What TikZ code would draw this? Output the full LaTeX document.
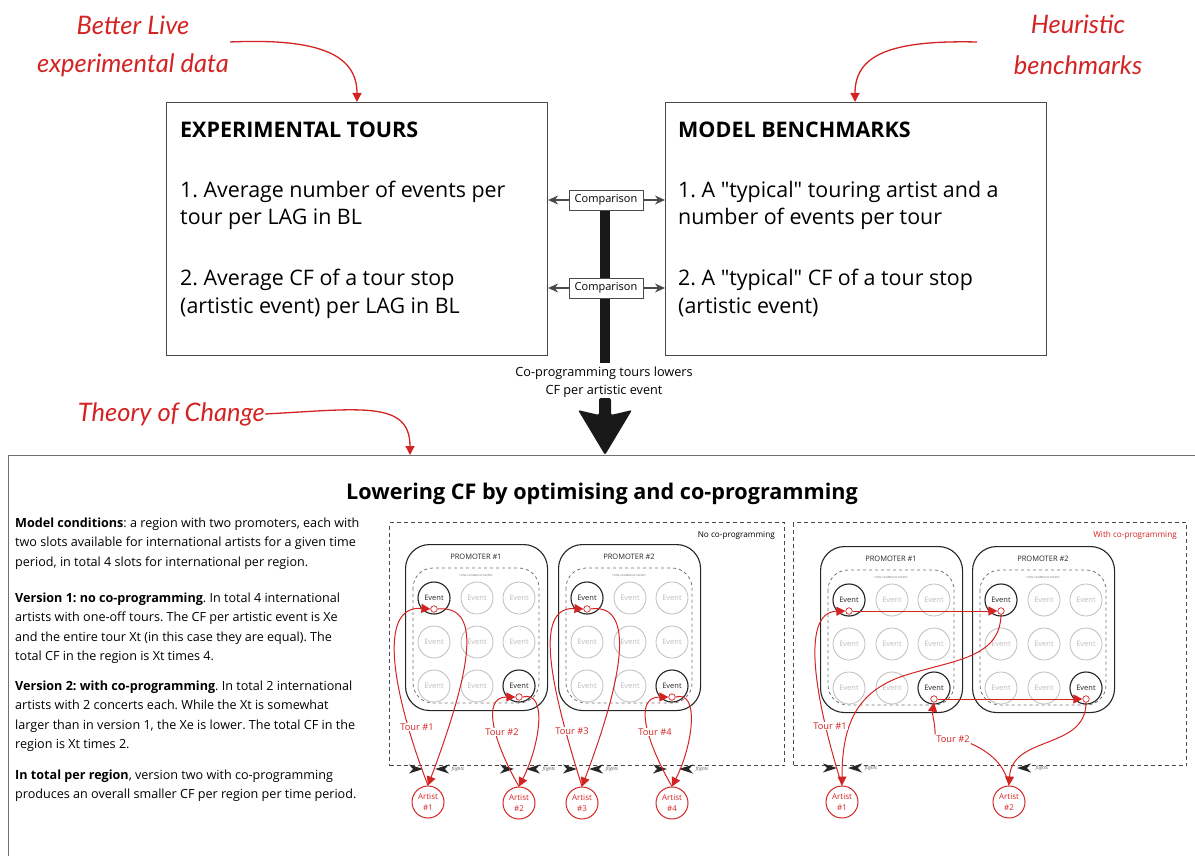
\documentclass[tikz,border=0pt]{standalone}
\usepackage{fontspec}
\setmainfont{Open Sans}
\newfontfamily\plainq{Open Sans}
\newfontfamily\handfont{Lato}
\usetikzlibrary{arrows.meta,calc,backgrounds}
\definecolor{tred}{HTML}{D42323}
\definecolor{dgrey}{HTML}{4A4A4A}
\definecolor{lgrey}{HTML}{BDBDBD}
\definecolor{mgrey}{HTML}{707070}
\newcommand\fs[2]{\fontsize{#1}{#2}\selectfont}
\newcommand\sq{{\plainq"}}
\frenchspacing
\tikzset{
  hand/.style={font=\handfont\itshape\fs{25.5}{28}, text=tred, inner sep=0pt},
  redarrow/.style={tred, line width=1.3pt, -{Triangle[length=9pt,width=9pt]}},
  topbox/.style={draw=dgrey, line width=1.1pt},
  boxtxt/.style={anchor=base west, inner sep=0pt, font=\fs{21.4}{24}},
  boxtitle/.style={anchor=base west, inner sep=0pt, font=\fs{21.5}{24}\bfseries},
  cmpbox/.style={draw=dgrey, line width=0.9pt, fill=white, minimum width=74pt, minimum height=20pt, inner sep=0pt, font=\fs{11}{12}},
  cmparrow/.style={dgrey, line width=1.2pt, -{Stealth[length=10pt,width=9pt]}},
  para/.style={anchor=base west, inner sep=0pt, font=\fs{12.6}{14}},
  ev/.style={circle, draw=lgrey, fill=white, line width=0.8pt, minimum size=32pt, inner sep=0pt, text=lgrey, font=\fs{7.5}{9}},
  evon/.style={ev, draw=black!85, text=black!85, line width=1.1pt},
  dot/.style={circle, draw=tred, fill=white, line width=0.7pt, minimum size=6.5pt, inner sep=0pt},
  artist/.style={circle, draw=tred, line width=1pt, minimum size=32pt, inner sep=0pt, text=tred, font=\fs{8}{11}, align=center},
  tour/.style={tred, line width=1pt},
  tourarr/.style={tour, -{Triangle[length=9pt,width=9pt]}},
  tourlbl/.style={text=tred, font=\fs{9.3}{11}, inner sep=1pt, fill=white},
  promo/.style={draw=black!85, line width=1.1pt, rounded corners=24pt},
  innerbox/.style={draw=mgrey, dashed, line width=0.8pt, rounded corners=20pt},
  panel/.style={draw=dgrey, line width=1pt, dash pattern=on 4pt off 3pt},
  prt/.style={font=\fs{7.5}{9}, text=black!85, inner sep=0pt},
  tot/.style={font=\fs{2.6}{3}, text=black!60, inner sep=0pt},
  flt/.style={font=\fs{4.5}{5}\itshape, text=black!70, inner sep=0pt},
  fltR/.pic={\fill[black!85] (0,0) -- (-14,-4.5) -- (-10,0) -- (-14,4.5) -- cycle;},
  fltL/.pic={\fill[black!85] (0,0) -- (14,-4.5) -- (10,0) -- (14,4.5) -- cycle;},
}
\newcommand\promoter[4]{%
  \node[promo, anchor=north west, minimum width=142pt, minimum height=166pt] (#1) at (#2,#3) {};
  \node[prt] (#1t) at ($(#1.north west)+(71,13)$) {PROMOTER \##4};
  \draw[innerbox] ($(#1.north west)+(8,24)$) rectangle ($(#1.north west)+(134,159)$);
  \node[tot] (#1n) at ($(#1.north west)+(71,32)$) {TOTAL NUMBER OF EVENTS};
  \foreach \r/\yy in {1/54,2/98,3/142}{\foreach \c/\xx in {1/29,2/72,3/114}{%
    \node[ev] (#1-\r\c) at ($(#1.north west)+(\xx,\yy)$) {Event};}}
  \node[evon] (#1-11) at (#1-11) {Event};
  \node[evon] (#1-33) at (#1-33) {Event};
  \node[dot] (#1-11d) at ($(#1-11.center)+(0,11)$) {};
  \node[dot] (#1-33d) at ($(#1-33.center)+(0,11)$) {};
}
\begin{document}
\frenchspacing
\begin{tikzpicture}[x=1pt,y=-1pt]
\useasboundingbox (0,0) rectangle (1195,856);

% ---------- top boxes
\node[topbox, anchor=north west, minimum width=381pt, minimum height=253pt] (exp) at (166,102) {};
\node[topbox, anchor=north west, minimum width=381pt, minimum height=253pt] (mod) at (665,102) {};
\node[boxtitle] (expT) at (180,138) {EXPERIMENTAL TOURS};
\node[boxtxt] (exp1) at (180,197) {1. Average number of events per};
\node[boxtxt] (exp2) at (180,225) {tour per LAG in BL};
\node[boxtxt] (exp3) at (180,285) {2. Average CF of a tour stop};
\node[boxtxt] (exp4) at (180,313) {(artistic event) per LAG in BL};
\node[boxtitle] (modT) at (678,138) {MODEL BENCHMARKS};
\node[boxtxt] (mod1) at (678,197) {1. A \sq typical\sq{} touring artist and a};
\node[boxtxt] (mod2) at (678,225) {number of events per tour};
\node[boxtxt] (mod3) at (678,285) {2. A \sq typical\sq{} CF of a tour stop};
\node[boxtxt] (mod4) at (678,313) {(artistic event)};

% ---------- handwritten notes
\node[hand] (bl1) at (133,25) {Better Live};
\node[hand] (bl2) at (133,65) {experimental data};
\node[hand] (hb1) at (1078,24) {Heuristic};
\node[hand] (hb2) at (1078,65) {benchmarks};
\node[hand, anchor=east] (toc) at (265,414) {Theory of Change};
\coordinate (blS) at (230,42);
\coordinate (hbS) at (977,42);
\draw[redarrow] (blS) .. controls (320,38) and (357,55) .. ($(exp.north west)+(191,0)$);
\draw[redarrow] (hbS) .. controls (890,40) and (855,55) .. ($(mod.north west)+(190,0)$);

% ---------- bottom box
\node[draw=mgrey, line width=1pt, anchor=north west, minimum width=1210pt, minimum height=420pt] (tocbox) at (8,455) {};
\draw[redarrow] (toc.east) .. controls (360,409) and (410,400) .. ($(tocbox.north west)+(402,0)$);

% ---------- comparison and thick arrow
\node[cmpbox] (cmp1) at (606,200) {Comparison};
\node[cmpbox] (cmp2) at (606,288) {Comparison};
\node[font=\fs{12.7}{18}, align=center, inner sep=0pt] (cop) at (604,382) {Co-programming tours lowers\\CF per artistic event};
\coordinate (tip) at (605,455);
\begin{pgfonlayer}{background}
\fill[black!90] ($(cmp1.south)+(-6,0)$) rectangle ($(cop.north)+(6,-3)$);
\fill[black!90, rounded corners=2pt] (tip) -- ($(tip)+(-27,-45)$) -- ($(tip)+(-6,-40)$) -- ($(tip)+(-6,-57)$) -- ($(tip)+(6,-57)$) -- ($(tip)+(6,-40)$) -- ($(tip)+(27,-45)$) -- cycle;
\end{pgfonlayer}
\draw[cmparrow] (cmp1.west) -- (cmp1.west -| exp.east);
\draw[cmparrow] (cmp1.east) -- (cmp1.east -| mod.west);
\draw[cmparrow] (cmp2.west) -- (cmp2.west -| exp.east);
\draw[cmparrow] (cmp2.east) -- (cmp2.east -| mod.west);

% ---------- bottom title and text
\node[anchor=base, inner sep=0pt, font=\fs{21.6}{24}\bfseries] (ttl) at (602,499) {Lowering CF by optimising and co-programming};
\node[para] (p1) at (15,527) {\textbf{Model conditions}: a region with two promoters, each with};
\node[para] (p2) at (15,546.5) {two slots available for international artists for a given time};
\node[para] (p3) at (15,566) {period, in total 4 slots for international per region.};
\node[para] (p4) at (15,602) {\textbf{Version 1: no co-programming}. In total 4 international};
\node[para] (p5) at (15,621.5) {artists with one-off tours. The CF per artistic event is Xe};
\node[para] (p6) at (15,641) {and the entire tour Xt (in this case they are equal). The};
\node[para] (p7) at (15,660.5) {total CF in the region is Xt times 4.};
\node[para] (p8) at (15,690) {\textbf{Version 2: with co-programming}. In total 2 international};
\node[para] (p9) at (15,709.5) {artists with 2 concerts each. While the Xt is somewhat};
\node[para] (p10) at (15,729) {larger than in version 1, the Xe is lower. The total CF in the};
\node[para] (p11) at (15,748.5) {region is Xt times 2.};
\node[para] (p12) at (15,779) {\textbf{In total per region}, version two with co-programming};
\node[para] (p13) at (15,798.5) {produces an overall smaller CF per region per time period.};

% ---------- panels
\node[panel, anchor=north west, minimum width=395pt, minimum height=243pt] (pL) at (389,522) {};
\node[panel, anchor=north west, minimum width=393pt, minimum height=243pt] (pR) at (793,522) {};
\node[font=\fs{8.2}{10}, anchor=base east, inner sep=0pt] (pLl) at (775,537) {No co-programming};
\node[font=\fs{8.2}{10}, anchor=base east, inner sep=0pt, text=tred] (pRl) at (1177,537) {With co-programming};

\promoter{L1}{405}{544}{1}
\promoter{L2}{558}{544}{2}
\promoter{R1}{820}{546}{1}
\promoter{R2}{972}{546}{2}

% ---------- artists
\node[artist] (A1) at (428,802) {Artist\\\#1};
\node[artist] (A2) at (519,803) {Artist\\\#2};
\node[artist] (A3) at (582,803) {Artist\\\#3};
\node[artist] (A4) at (672,803) {Artist\\\#4};
\node[artist] (RA1) at (842,802) {Artist\\\#1};
\node[artist] (RA2) at (1009,802) {Artist\\\#2};

% ---------- flights markers
\foreach \ax in {428,519,582,672}{
  \pic at (\ax-5,769) {fltR};
  \pic at (\ax+7,769) {fltL};
  \node[flt] at (\ax+30,769) {flights};
}
\pic at (837,768) {fltR};
\pic at (848,768) {fltL};
\node[flt] (fl5) at (871,768) {flights};
\pic at (1017,768) {fltL};
\node[flt] (fl6) at (1042,768) {flights};

% ---------- tours, no co-programming
\draw[tourarr] (A1.north) .. controls (395,700) and (375,605) .. (L1-11d.west);
\draw[tourarr] (L1-11d.east) .. controls (480,605) and (475,660) .. (A1.north);
\draw[tourarr] (A2.north) .. controls (495,745) and (480,697) .. (L1-33d.west);
\draw[tourarr] (L1-33d.east) .. controls (548,690) and (540,745) .. (A2.north);
\draw[tourarr] (A3.north) .. controls (555,700) and (530,606) .. (L2-11d.west);
\draw[tourarr] (L2-11d.east) .. controls (632,603) and (628,665) .. (A3.north);
\draw[tourarr] (A4.north) .. controls (648,745) and (632,697) .. (L2-33d.west);
\draw[tourarr] (L2-33d.east) .. controls (700,690) and (693,745) .. (A4.north);
\node[tourlbl] (t1) at (417,727) {Tour \#1};
\node[tourlbl] (t2) at (502,732) {Tour \#2};
\node[tourlbl] (t3) at (572,731) {Tour \#3};
\node[tourlbl] (t4) at (655,732) {Tour \#4};

% ---------- tours, with co-programming
\draw[tourarr] (RA1.north) .. controls (815,700) and (800,612) .. (R1-11d.west);
\draw[tourarr] (R1-11d.east) -- (R2-11d.west);
\draw[tourarr] (R2-11d.south) .. controls (1000,660) and (950,660) .. (900,677) .. controls (860,692) and (842,720) .. (RA1.north);
\node[tourlbl] (rt1) at (830,726) {Tour \#1};
\node[tourlbl] (rt2) at (953,739) {Tour \#2};
\draw[tourarr] (rt2.north west) .. controls (935,722) and (932,715) .. (R1-33d.south);
\draw[tourarr] (R1-33d.east) -- (R2-33d.west);
\draw[tourarr] (R2-33d.south) .. controls (1086,750) and (1012,735) .. (RA2.north);
\draw[tour] (rt2.south east) .. controls (990,752) and (1005,765) .. (RA2.north);
\end{tikzpicture}
\end{document}
